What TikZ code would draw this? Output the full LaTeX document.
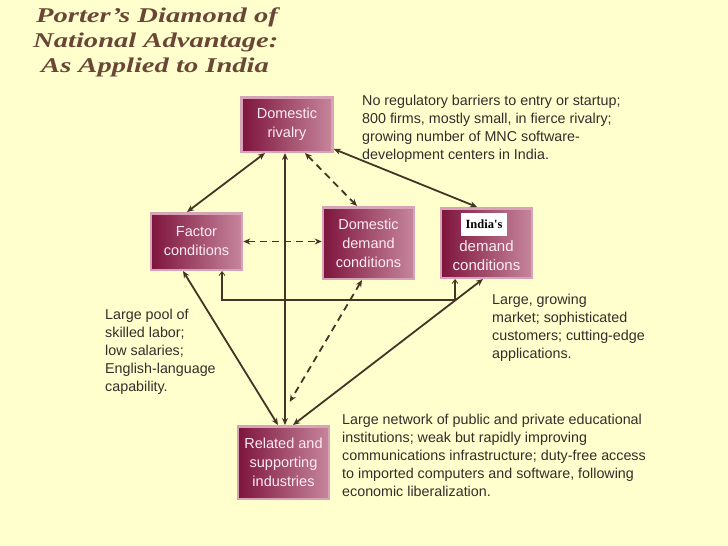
\documentclass[tikz,border=0pt]{standalone}
\usepackage{fontspec}
\setmainfont{Liberation Sans}
\newfontfamily\titlefont[FakeStretch=1.36]{Liberation Serif}
\newfontfamily\tagfont{Liberation Serif}
\usetikzlibrary{arrows.meta,calc}
\definecolor{paper}{RGB}{255,255,206}
\definecolor{maroon}{RGB}{126,20,60}
\definecolor{rosy}{RGB}{198,134,156}
\definecolor{rim}{RGB}{214,164,182}
\definecolor{ink}{RGB}{68,52,38}
\definecolor{notegray}{RGB}{50,46,42}
\definecolor{titlebrown}{RGB}{106,70,54}
\definecolor{boxtext}{RGB}{252,236,242}
\tikzset{
  forcebox/.style={draw=rim, line width=2.5pt, left color=maroon, right color=rosy,
    text=boxtext, minimum width=91pt, inner sep=0pt, align=center,
    font=\fontsize{14.5}{19}\selectfont},
  link/.style={ink, line width=1.8pt, {Stealth[length=7pt,width=6pt]}-{Stealth[length=7pt,width=6pt]}},
  dlink/.style={link, dash pattern=on 7pt off 5pt},
  elbow/.style={ink, line width=1.8pt,
    {Straight Barb[length=4pt,width=6pt,line width=0.8pt]}-{Straight Barb[length=4pt,width=6pt,line width=0.8pt]}},
  notetext/.style={anchor=north west, inner sep=0pt, align=left, text=notegray,
    font=\fontsize{14.3}{18}\selectfont}
}

\begin{document}
\begin{tikzpicture}[x=1pt,y=-1pt]
  %%%%% START %%%%%
  \fill[paper] (0,0) rectangle (728,546);
  \useasboundingbox (0,0) rectangle (728,546);

  % title
  \node[anchor=north west, inner sep=0pt, align=left, text=titlebrown,
    font=\titlefont\bfseries\itshape\fontsize{21}{25}\selectfont] (title) at (33,8)
    {\hspace*{3pt}Porter’s Diamond of\\National Advantage:\\\hspace*{8pt}As Applied to India};

  % the four corners of the diamond
  \node[forcebox, minimum height=54.5pt] (rivalry) at (287,124.5) {Domestic\\rivalry};
  \node[forcebox, minimum height=56.5pt] (factor) at (196.5,241.5) {Factor\\conditions};
  \node[forcebox, minimum height=71.5pt] (ddemand) at (368.5,243) {Domestic\\demand\\conditions};
  \node[forcebox, minimum height=69.5pt] (idemand) at (486.5,243) {};
  \node[text=boxtext, align=center, inner sep=0pt, font=\fontsize{15}{19}\selectfont] (idtext) at (486.5,256) {demand\\conditions};
  \node[fill=white, inner sep=0pt, minimum width=46pt, minimum height=23pt,
    font=\tagfont\bfseries\fontsize{12.5}{12}\selectfont] (idtag) at (484,224.5) {India's};
  \node[forcebox, minimum height=72.5pt] (related) at (283.5,462.5) {Related and\\supporting\\industries};

  % connectors
  \draw[link] ([xshift=-9.5pt]factor.north) -- ([xshift=-22pt]rivalry.south);
  \draw[link] ([xshift=-2pt]rivalry.south) -- ([xshift=1.5pt]related.north);
  \draw[dlink] ([xshift=18pt]rivalry.south) -- ([xshift=-11.5pt]ddemand.north);
  \draw[link] ([yshift=4pt]rivalry.south east) -- ([xshift=-9.5pt]idemand.north);
  \draw[dlink] (factor.east) -- (factor.east -| ddemand.west);
  \draw[link] ([xshift=-13.5pt]factor.south) -- ([xshift=-5.5pt]related.north);
  \draw[elbow] ([xshift=25.5pt]factor.south) -- ++(0,29) -| ([xshift=-31.5pt]idemand.south);
  \draw[dlink, shorten >=27pt] ([xshift=-6.5pt]ddemand.south) -- ([xshift=-7.5pt]related.north);
  \draw[link] ([xshift=-3.5pt]idemand.south) -- ([xshift=9.5pt]related.north);

  % notes
  \node[notetext] (rivalrynote) at (362,95) {No regulatory barriers to entry or startup;\\800 firms, mostly small, in fierce rivalry;\\growing number of MNC software-\\development centers in India.};
  \node[notetext] (factornote) at (105,309) {Large pool of\\skilled labor;\\low salaries;\\English-language\\capability.};
  \node[notetext] (demandnote) at (492,294) {Large, growing\\market; sophisticated\\customers; cutting-edge\\applications.};
  \node[notetext] (relatednote) at (342,414) {Large network of public and private educational\\institutions; weak but rapidly improving\\communications infrastructure; duty-free access\\to imported computers and software, following\\economic liberalization.};
  %%%%% END %%%%%
\end{tikzpicture}
\end{document}
